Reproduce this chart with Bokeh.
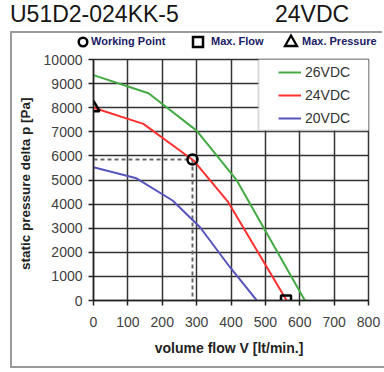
from bokeh.plotting import figure
from bokeh.layouts import column
from bokeh.models import (FixedTicker, Legend, LegendItem, BoxAnnotation, Range1d,
                          InlineStyleSheet, Div)
from bokeh.embed import file_html
from bokeh.resources import INLINE

# ---- data ----
x_ticks = [0, 100, 200, 300, 400, 500, 600, 700, 800]
y_ticks = [0, 1000, 2000, 3000, 4000, 5000, 6000, 7000, 8000, 9000, 10000]

flow_26 = [0, 160, 300, 417, 615]
pres_26 = [9350, 8600, 7050, 4980, 0]
flow_24 = [0, 145, 291, 392, 562]
pres_24 = [8000, 7330, 5810, 4080, 0]
flow_20 = [0, 125, 230, 310, 397, 475]
pres_20 = [5530, 5070, 4150, 3040, 1380, 0]

wp_flow, wp_pres = 288, 5850          # working point
max_flow = 560                         # max flow at 0 Pa
max_pres = 8000                        # max pressure at 0 flow

series_names = ["26VDC", "24VDC", "20VDC"]
series_colors = ["#44aa44", "#ff3030", "#5555bb"]
marker_names = ["Working Point", "Max. Flow", "Max. Pressure"]
title_texts = ["U51D2-024KK-5", "24VDC"]

FONT = "Liberation Sans"
TOP_H = 50

# ---------------- header strip (title + marker key) ----------------
header_html = f"""
<div style="position:relative;width:384px;height:{TOP_H}px;font-family:'{FONT}';line-height:1;">
  <div style="position:absolute;left:10px;top:31px;width:372px;height:19px;
              border-top:2px solid #9a9a9a;border-left:2px solid #9a9a9a;"></div>
  <span style="position:absolute;left:10px;top:3px;font-size:23px;color:#151515;white-space:pre;">{title_texts[0]}</span>
  <span style="position:absolute;left:275px;top:3px;font-size:23px;color:#151515;white-space:pre;">{title_texts[1]}</span>
  <svg style="position:absolute;left:0;top:0;" width="384" height="{TOP_H}">
    <circle cx="83" cy="42" r="4.3" fill="none" stroke="black" stroke-width="2.5"/>
    <rect x="193" y="37" width="10" height="10" fill="none" stroke="black" stroke-width="2.5"/>
    <polygon points="291,35.5 297,46 285,46" fill="none" stroke="black" stroke-width="2.3"/>
  </svg>
  <span style="position:absolute;left:91px;top:35.7px;font-size:11px;font-weight:bold;color:#1a1a66;white-space:pre;">{marker_names[0]}</span>
  <span style="position:absolute;left:211px;top:35.7px;font-size:11px;font-weight:bold;color:#1a1a66;white-space:pre;">{marker_names[1]}</span>
  <span style="position:absolute;left:302px;top:35.7px;font-size:11px;font-weight:bold;color:#1a1a66;white-space:pre;">{marker_names[2]}</span>
</div>
"""
header = Div(text=header_html, width=384, height=TOP_H, margin=0)

# ---------------- main chart ----------------
frame_css = InlineStyleSheet(css="""
:host { position: relative; }
:host::after { content: ""; position: absolute; left: 10px; top: 0px; width: 374px;
  height: 318px; border-left: 2px solid #9a9a9a; border-bottom: 2px solid #9a9a9a;
  pointer-events: none; }
""")

p = figure(width=384, height=372 - TOP_H, output_backend="svg", toolbar_location=None,
           x_range=Range1d(0, 800), y_range=Range1d(0, 10000),
           min_border_left=93, min_border_right=16, min_border_top=59 - TOP_H,
           min_border_bottom=72, stylesheets=[frame_css])
p.background_fill_color = "white"
p.border_fill_color = "white"
p.outline_line_color = "#333333"
p.outline_line_width = 1.5

p.xaxis.ticker = FixedTicker(ticks=x_ticks)
p.yaxis.ticker = FixedTicker(ticks=y_ticks)
for ax in (p.xaxis[0], p.yaxis[0]):
    ax.axis_line_color = "#222222"
    ax.axis_line_width = 1.5
    ax.major_tick_line_color = "#222222"
    ax.major_tick_line_width = 1.5
    ax.major_tick_out = 5
    ax.major_tick_in = 0
    ax.minor_tick_line_color = None
    ax.major_label_text_font = FONT
    ax.major_label_text_font_size = "14px"
    ax.major_label_text_color = "#404040"
    ax.axis_label_text_font = FONT
    ax.axis_label_text_font_style = "bold"
    ax.axis_label_text_color = "#222222"
p.xaxis.axis_label_text_font_size = "14px"
p.yaxis.axis_label_text_font_size = "13.5px"
p.xaxis.major_label_standoff = 11
p.yaxis.major_label_standoff = 6
p.xaxis.axis_label = "volume flow V  [lt/min.]"
p.yaxis.axis_label = "static pressure  delta p  [Pa]"
p.xaxis.axis_label_standoff = 10
p.yaxis.axis_label_standoff = 8

p.grid.grid_line_color = "#333333"
p.grid.grid_line_width = 1.5

# dashed guides to working point
p.line([0, wp_flow], [wp_pres, wp_pres], line_color="#666666", line_width=2, line_dash="4 3")
p.line([wp_flow, wp_flow], [wp_pres, 0], line_color="#666666", line_width=2, line_dash="4 3")

curves = []
for xs, ys, c in zip([flow_26, flow_24, flow_20], [pres_26, pres_24, pres_20], series_colors):
    curves.append(p.line(xs, ys, line_color=c, line_width=2))

p.scatter([wp_flow], [wp_pres], marker="circle", size=10, fill_color=None,
          line_color="black", line_width=2.5)
p.scatter([max_flow], [0], marker="square", size=10, fill_color=None,
          line_color="black", line_width=2.5)
p.scatter([0], [max_pres], marker="triangle", size=12, fill_color=None,
          line_color="black", line_width=2.5)

# legend box
p.add_layout(BoxAnnotation(left=480, right=810, top=10060, bottom=7054,
                           fill_color="white", fill_alpha=1.0,
                           line_color="#888888", line_width=2))

leg = Legend(items=[LegendItem(label=n, renderers=[r]) for n, r in zip(series_names, curves)],
             location=(185, 172), padding=0, spacing=3, glyph_height=20, glyph_width=23,
             label_standoff=4, label_text_font=FONT, label_text_font_size="14px",
             label_text_color="#333333", border_line_color=None,
             background_fill_alpha=0)
p.add_layout(leg)

layout = column(header, p, spacing=0)

open("out.html", "w").write(file_html(layout, INLINE))
